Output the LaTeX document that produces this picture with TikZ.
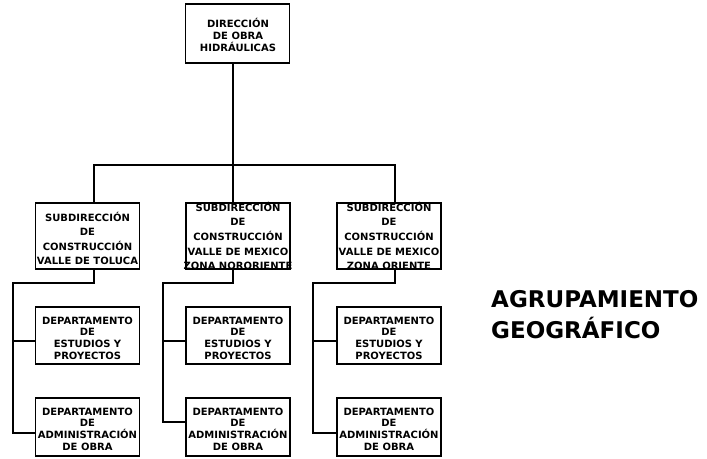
\documentclass[tikz,border=0pt]{standalone}
\usepackage{fontspec}
\setmainfont{DejaVu Sans}
\begin{document}
\begin{tikzpicture}[x=1pt,y=-1pt,
  box/.style={draw,line width=1.3pt,minimum width=104pt,inner sep=0pt},
  txt/.style={align=center,font=\bfseries\fontsize{10}{11.6}\selectfont,inner sep=0pt},
  stxt/.style={align=center,font=\bfseries\fontsize{10}{14.6}\selectfont,inner sep=0pt},
  ln/.style={line width=1.3pt}]
\useasboundingbox (0,0) rectangle (707,458);
% top
\node[box,minimum width=104pt,minimum height=59pt] (top) at (237.5,33.5) {};
\node[txt] at (238,35) {DIRECCIÓN\\DE OBRA\\HIDRÁULICAS};
% subdirections
\node[box,minimum height=66pt] (s1) at (87.5,236) {};
\node[box,minimum height=66pt] (s2) at (238,236) {};
\node[box,minimum height=66pt] (s3) at (389,236) {};
\node[stxt] at (87.5,238.5) {SUBDIRECCIÓN\\DE\\CONSTRUCCIÓN\\VALLE DE TOLUCA};
\node[stxt] at (238,236) {SUBDIRECCIÓN\\DE\\CONSTRUCCIÓN\\VALLE DE MEXICO\\ZONA NORORIENTE};
\node[stxt] at (389,236) {SUBDIRECCIÓN\\DE\\CONSTRUCCIÓN\\VALLE DE MEXICO\\ZONA ORIENTE};
% departments
\foreach \n/\x in {1/87.5,2/238,3/389}{
  \node[box,minimum height=57pt] (e\n) at (\x,335.5) {};
  \node[txt] at (\x,338) {DEPARTAMENTO\\DE\\ESTUDIOS Y\\PROYECTOS};
  \node[box,minimum height=58pt] (a\n) at (\x,427) {};
  \node[txt] at (\x,429) {DEPARTAMENTO\\DE\\ADMINISTRACIÓN\\DE OBRA};
}
% connectors
\coordinate (bus1) at (94,165);
\coordinate (bus2) at (233,165);
\coordinate (bus3) at (395,165);
\draw[ln] (top.south -| bus2) -- (bus2);
\draw[ln] (s1.north -| bus1) -- (bus1) -- (bus3) -- (s3.north -| bus3);
\draw[ln] (bus2) -- (s2.north -| bus2);
% branches
\coordinate (b1) at (94,283);  \coordinate (l1) at (13,283);
\coordinate (b2) at (233,283); \coordinate (l2) at (163,283);
\coordinate (b3) at (395,283); \coordinate (l3) at (313,283);
\draw[ln] (s1.south -| b1) -- (b1) -- (l1) |- (a1.west |- 0,433);
\draw[ln] (l1 |- 0,341) -- (e1.west |- 0,341);
\draw[ln] (s2.south -| b2) -- (b2) -- (l2) |- (a2.west |- 0,422);
\draw[ln] (l2 |- 0,341) -- (e2.west |- 0,341);
\draw[ln] (s3.south -| b3) -- (b3) -- (l3) |- (a3.west |- 0,433);
\draw[ln] (l3 |- 0,341) -- (e3.west |- 0,341);
% label
\node[anchor=base west,align=left,inner sep=0pt,font=\bfseries\fontsize{23}{31}\selectfont] (lbl) at (491,338) {AGRUPAMIENTO\\GEOGRÁFICO};
\end{tikzpicture}
\end{document}
